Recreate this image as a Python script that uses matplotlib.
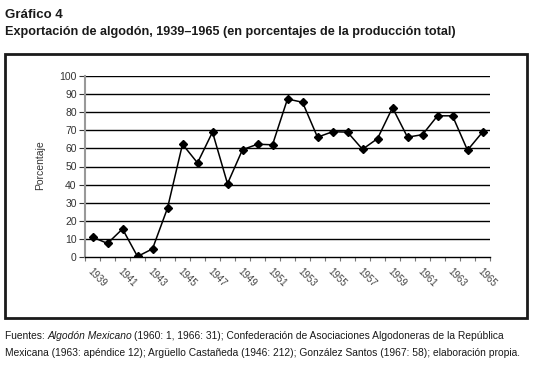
import matplotlib
matplotlib.use("Agg")
import matplotlib.pyplot as plt
from matplotlib.patches import Rectangle
from matplotlib import font_manager

years = list(range(1939, 1966))
values = [11, 7.5, 15.5, 0.3, 4.5, 27, 62.3, 52, 69, 40.5, 59.3, 62.3, 62,
          87.3, 85.5, 66.2, 69.2, 69, 59.5, 65.4, 82.5, 66.2, 67.6, 78, 78, 59, 69]
yticks = list(range(0, 101, 10))
xlabels = [str(y) if (y - 1939) % 2 == 0 else "" for y in years]

names = {f.name for f in font_manager.fontManager.ttflist}
fam = [n for n in ['DejaVu Sans Condensed', 'Liberation Sans Narrow', 'Liberation Sans'] if n in names]
plt.rcParams['font.family'] = fam + ['DejaVu Sans']

W, H = 535, 366
fig = plt.figure(figsize=(W / 100, H / 100), dpi=100)
r = fig.canvas.get_renderer()

def fit_text(xp, yp, s, target_w, size, **kw):
    t = fig.text(xp / W, 1 - yp / H, s, fontsize=size, **kw)
    w = t.get_window_extent(r).width
    if target_w and w > 0:
        t.set_fontsize(size * target_w / w)
    return t

# outer frame
fig.patches.append(Rectangle((5 / W, 1 - 318 / H), 522 / W, 264 / H,
                             transform=fig.transFigure, fill=False,
                             edgecolor='#1a1a1a', linewidth=2))

fit_text(5, 18, "Gráfico 4", 58, 9.5, fontweight='bold', color='#1a1a1a')
fit_text(5, 35, "Exportación de algodón, 1939–1965 (en porcentajes de la producción total)",
         450, 9.5, fontweight='bold', color='#1a1a1a')

ax = fig.add_axes([85 / W, 1 - 257 / H, 405 / W, 181 / H])
x = list(range(len(years)))
ax.plot(x, values, color='black', linewidth=1.1, marker='D', markersize=4.5,
        markerfacecolor='black', markeredgecolor='black', zorder=3)

ax.set_xlim(-0.5, len(years) - 0.5)
ax.set_ylim(0, 100)
ax.set_yticks(yticks)
ax.set_yticklabels([str(v) for v in yticks], fontsize=7.5, color='#333333')
ax.tick_params(axis='y', length=4, width=0.8, color='#333333', pad=2)
for v in yticks[1:]:
    ax.axhline(v, color='black', linewidth=1.0, zorder=1)

ax.set_xticks(x)
ax.set_xticklabels(xlabels, rotation=-45, ha='left', va='top',
                   rotation_mode='anchor', fontsize=7, color='#444444')
ax.tick_params(axis='x', length=0, pad=7)
ax.set_xticks([i - 0.5 for i in range(len(years) + 1)], minor=True)
ax.tick_params(axis='x', which='minor', length=3, width=0.8, color='#777777')

for s in ['top', 'right']:
    ax.spines[s].set_visible(False)
ax.spines['left'].set_color('#999999')
ax.spines['left'].set_linewidth(1.5)
ax.spines['bottom'].set_color('black')
ax.spines['bottom'].set_linewidth(1.0)
ax.set_facecolor('none')

fig.text(40 / W, 1 - 165 / H, "Porcentaje", rotation=90, fontsize=7.5,
         color='#333333', ha='center', va='center')

line2 = fit_text(5, 356,
                 "Mexicana (1963: apéndice 12); Argüello Castañeda (1946: 212); González Santos (1967: 58); elaboración propia.",
                 518, 8, color='#1a1a1a')
cs = line2.get_fontsize()
t1 = fig.text(5 / W, 1 - 339 / H, "Fuentes: ", fontsize=cs, color='#1a1a1a')
bb = t1.get_window_extent(r)
t2 = fig.text(bb.x1 / W, 1 - 339 / H, "Algodón Mexicano", fontsize=cs,
              style='italic', color='#1a1a1a')
bb2 = t2.get_window_extent(r)
fig.text(bb2.x1 / W + 2 / W, 1 - 339 / H,
         "(1960: 1, 1966: 31); Confederación de Asociaciones Algodoneras de la República",
         fontsize=cs, color='#1a1a1a')

fig.savefig("out.png", dpi=100)
